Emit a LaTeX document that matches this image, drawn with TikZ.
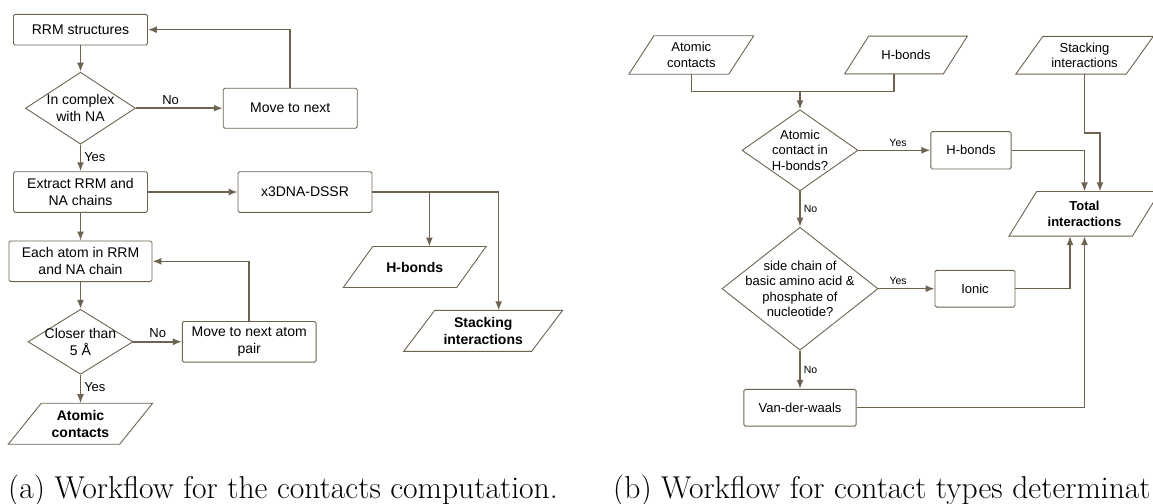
\documentclass[tikz,border=0pt]{standalone}
\usepackage{fontspec}
\newfontfamily\arial{Liberation Sans}
\usetikzlibrary{shapes.geometric, positioning, arrows.meta}
\definecolor{flowline}{RGB}{110,99,80}
\tikzset{
>={Latex[length=9pt, width=7pt]}, % filled arrow heads
process/.style={draw=flowline, line width=0.9pt, rounded corners=1.5pt, minimum width=134, minimum height=40.6, inner sep=2pt, align=center, font=\arial\fontsize{14}{16.7}\selectfont}, % plain step
decision/.style={diamond, draw=flowline, line width=0.9pt, inner sep=-15pt, align=center, font=\arial\fontsize{14}{16.7}\selectfont}, % size comes from minimum width/height
iobox/.style={inner sep=0pt, minimum height=40.6, align=center, font=\arial\bfseries\fontsize{14}{16.7}\selectfont,
  append after command={\pgfextra{\draw[flowline, line width=0.9pt] ([xshift=#1/2]\tikzlastnode.north west) -- ([xshift=#1/2]\tikzlastnode.north east) -- ([xshift=-#1/2]\tikzlastnode.south east) -- ([xshift=-#1/2]\tikzlastnode.south west) -- cycle;}}}, % parallelogram, #1 = slant
small/.style={font=\arial\fontsize{13}{15.5}\selectfont}, % text of the second chart
flow/.style={->, draw=flowline, line width=1.5pt},
yesno/.style={font=\arial\fontsize{13}{15}\selectfont, inner sep=3pt},
smallyesno/.style={font=\arial\fontsize{10.5}{12}\selectfont, inner sep=3pt},
caption/.style={anchor=base west, inner sep=0pt, font=\fontsize{31.6}{36}\selectfont},
}
\begin{document}
\begin{tikzpicture}[x=1pt, y=-1pt]
\useasboundingbox (0,0) rectangle (1153,503);

% (a) contacts computation
\node[process, minimum height=30.7] (rrm) at (80.5,29.7) {RRM structures};
\node[decision, minimum width=110, minimum height=72] (complex) at (80.5,108.2) {In complex\\with NA};
\node[process, minimum height=40] (next) at (290.2,108.2) {Move to next};
\node[process] (extract) at (80.5,192) {Extract RRM and\\NA chains};
\node[process, right=89.6pt of extract] (dssr) {x3DNA-DSSR};
\node[iobox=29.4, minimum width=113] (hbonds) at (414.7,267) {H-bonds};
\node[iobox=31, minimum width=127.5] (stacking) at (483.2,330.8) {Stacking\\interactions};
\node[process, minimum width=143] (atom) at (80.5,261.3) {Each atom in RRM\\and NA chain};
\node[decision, minimum width=105, minimum height=65] (closer) at (80.5,341.8) {Closer than\\5 Å};
\node[process, minimum width=133.7] (nextpair) at (249.2,341.8) {Move to next atom\\pair};
\node[iobox=33, minimum width=111] (contacts) at (80.5,423.7) {Atomic\\contacts};

\draw[flow] (rrm) -- (complex);
\draw[flow] (complex) -- node[yesno, above, pos=0.4] {No} (next);
\draw[flow] (next.north) |- (rrm.east);
\draw[flow] (complex) -- node[yesno, right, pos=0.45] {Yes} (extract);
\draw[flow] (extract) -- (dssr);
\draw[flow] (dssr.east) -| ([xshift=14.7]hbonds.north);
\draw[flow] (dssr.east) -| ([xshift=15.5]stacking.north);
\draw[flow] (extract) -- (atom);
\draw[flow] (atom) -- (closer);
\draw[flow] (closer) -- node[yesno, above] {No} (nextpair);
\draw[flow] (nextpair.north) |- (atom.east);
\draw[flow] (closer) -- node[yesno, right, pos=0.45] {Yes} (contacts);

% (b) contact types
\node[iobox=25, small, minimum width=99.4, minimum height=38] (atomic) at (691.3,55) {Atomic\\contacts};
\node[iobox=24, small, minimum width=98.3, minimum height=37.3] (hbin) at (906,55) {H-bonds};
\node[iobox=27, small, minimum width=110, minimum height=37.3] (stackin) at (1084.5,55.3) {Stacking\\interactions};
\coordinate (merge) at (800,91.7);
\node[decision, small, minimum width=116, minimum height=81] (inhb) at (800,150.3) {Atomic\\contact in\\H-bonds?};
\node[process, small, minimum width=80.3, minimum height=37.3] (hbout) at (971,150.3) {H-bonds};
\node[iobox=27.7, small, font=\arial\bfseries\fontsize{13}{15.5}\selectfont, minimum width=123, minimum height=44.3] (total) at (1084.5,213.8) {Total\\interactions};
\node[decision, small, minimum width=156, minimum height=123] (basic) at (800,288.7) {side chain of\\basic amino acid \&\\phosphate of\\nucleotide?};
\node[process, small, minimum width=80, minimum height=36.7] (ionic) at (975,288.7) {Ionic};
\node[process, small, minimum width=112.3, minimum height=36.7] (vdw) at (800,407.7) {Van-der-waals};

\draw[flow, -] (atomic.south) |- (merge) -| ([xshift=-12]hbin.south);
\draw[flow] (merge) -- (inhb);
\draw[flow] (inhb) -- node[smallyesno, above, pos=0.55] {Yes} (hbout);
\draw[flow] (inhb) -- node[smallyesno, right] {No} (basic);
\draw[flow] (hbout.east) -| (total.north);
\draw[flow] (stackin.south) -- ++(0,58.7) -| ([xshift=15.5]total.north);
\draw[flow] (basic) -- node[smallyesno, above, pos=0.35] {Yes} (ionic);
\draw[flow] (basic) -- node[smallyesno, right] {No} (vdw);
\draw[flow] (ionic.east) -| ([xshift=-14.5]total.south);
\draw[flow] (vdw.east) -| (total.south);

% captions
\node[caption] (capa) at (8,498) {(a) Workflow for the contacts computation.};
\node[caption] (capb) at (613,498) {(b) Workflow for contact types determinat};
\end{tikzpicture}
\end{document}
